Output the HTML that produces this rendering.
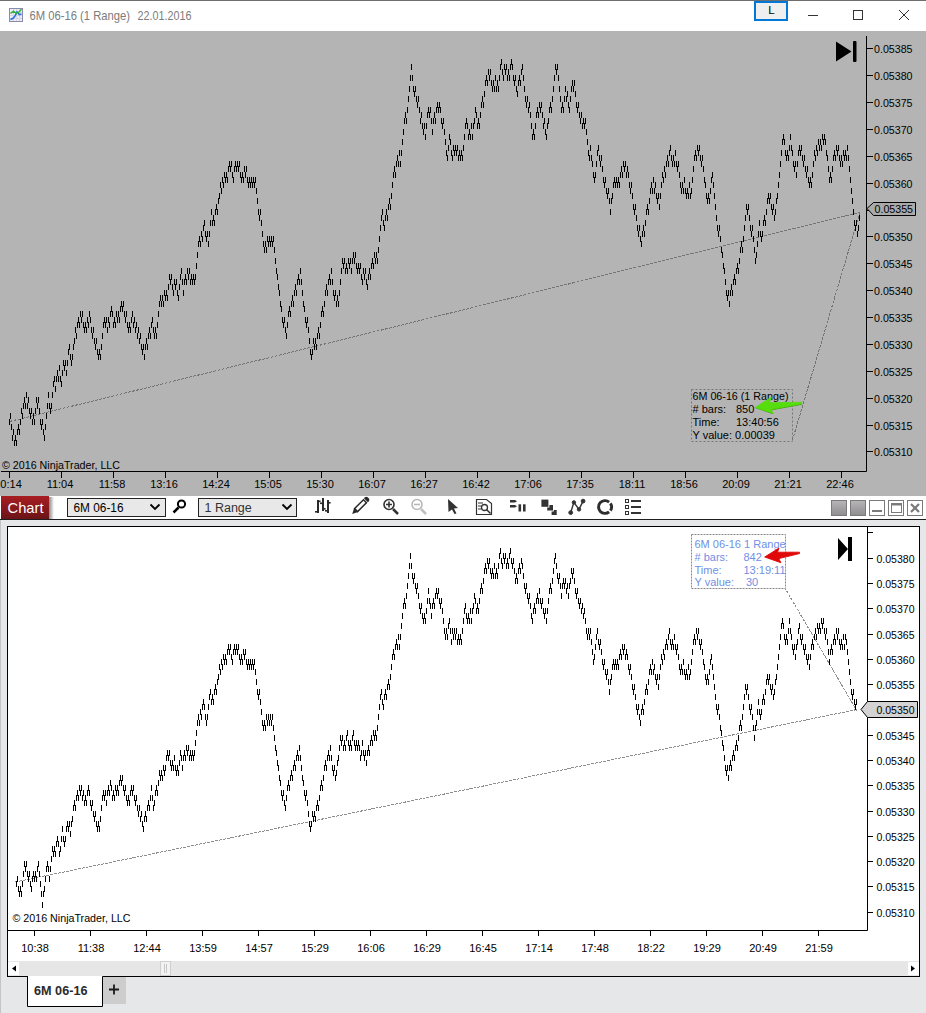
<!DOCTYPE html>
<html><head><meta charset="utf-8">
<style>
html,body{margin:0;padding:0;}
body{width:926px;height:1013px;overflow:hidden;background:#e6e7e8;position:relative;font-family:"Liberation Sans",sans-serif;}
svg{position:absolute;left:0;top:0;}
</style></head><body>
<svg width="926" height="1013" viewBox="0 0 926 1013" font-family="Liberation Sans, sans-serif">
<!-- title bar -->
<rect x="0" y="0" width="926" height="31" fill="#ffffff"/>
<rect x="0" y="0" width="926" height="1" fill="#6e6e6e"/>
<g>
<rect x="9.5" y="8.5" width="13" height="13" fill="#ececf8" stroke="#8b8bab"/>
<path d="M10 12.5h12M10 15.5h12M10 18.5h12M13.5 9v12M16.5 9v12M19.5 9v12" stroke="#d4d4e4" stroke-width="1"/>
<path d="M10.5 19.5L13 18.3L15 16L17 11.8L19.3 14.6L21.5 14" stroke="#2a6ee0" stroke-width="1.5" fill="none"/>
<path d="M10.5 13.5L13.5 11.2L16.5 13.5L19.5 11.5L21.5 9.3" stroke="#2fb52f" stroke-width="1.5" fill="none"/>
</g>
<text x="29.5" y="20" font-size="13" fill="#7c7c7c" textLength="100.5" lengthAdjust="spacingAndGlyphs">6M 06-16 (1 Range)</text><text x="137.5" y="20" font-size="13" fill="#7c7c7c" textLength="54" lengthAdjust="spacingAndGlyphs">22.01.2016</text>
<rect x="755" y="2" width="32" height="18" fill="#efefef" stroke="#0078d7" stroke-width="2"/>
<text x="771.5" y="14.3" font-size="11.5" text-anchor="middle" fill="#000">L</text>
<path d="M808 15.5h10" stroke="#333" stroke-width="1"/>
<rect x="853.5" y="10.5" width="9" height="9" fill="none" stroke="#333"/>
<path d="M899 10L909 20M909 10L899 20" stroke="#333" stroke-width="1"/>

<!-- top chart -->
<rect x="0" y="31" width="926" height="465" fill="#b4b4b4"/>
<g font-size="11" fill="#000">
<path d="M1 471.5H866.5V36" stroke="#000" fill="none"/>
<path d="M9.5 472v6" stroke="#000"/><text x="8" y="488" text-anchor="middle">10:14</text><path d="M61.5 472v6" stroke="#000"/><text x="60" y="488" text-anchor="middle">11:04</text><path d="M113.5 472v6" stroke="#000"/><text x="112" y="488" text-anchor="middle">11:58</text><path d="M165.5 472v6" stroke="#000"/><text x="164" y="488" text-anchor="middle">13:16</text><path d="M217.5 472v6" stroke="#000"/><text x="216" y="488" text-anchor="middle">14:24</text><path d="M269.5 472v6" stroke="#000"/><text x="268" y="488" text-anchor="middle">15:05</text><path d="M321.5 472v6" stroke="#000"/><text x="320" y="488" text-anchor="middle">15:30</text><path d="M373.5 472v6" stroke="#000"/><text x="372" y="488" text-anchor="middle">16:07</text><path d="M425.5 472v6" stroke="#000"/><text x="424" y="488" text-anchor="middle">16:27</text><path d="M477.5 472v6" stroke="#000"/><text x="476" y="488" text-anchor="middle">16:42</text><path d="M529.5 472v6" stroke="#000"/><text x="528" y="488" text-anchor="middle">17:06</text><path d="M581.5 472v6" stroke="#000"/><text x="580" y="488" text-anchor="middle">17:35</text><path d="M633.5 472v6" stroke="#000"/><text x="632" y="488" text-anchor="middle">18:11</text><path d="M685.5 472v6" stroke="#000"/><text x="684" y="488" text-anchor="middle">18:56</text><path d="M737.5 472v6" stroke="#000"/><text x="736" y="488" text-anchor="middle">20:09</text><path d="M789.5 472v6" stroke="#000"/><text x="788" y="488" text-anchor="middle">21:21</text><path d="M841.5 472v6" stroke="#000"/><text x="840" y="488" text-anchor="middle">22:46</text>
<path d="M867 48.5h6" stroke="#000"/><text x="874" y="53" textLength="38.5" lengthAdjust="spacingAndGlyphs">0.05385</text><path d="M867 75.5h6" stroke="#000"/><text x="874" y="80" textLength="38.5" lengthAdjust="spacingAndGlyphs">0.05380</text><path d="M867 102.5h6" stroke="#000"/><text x="874" y="107" textLength="38.5" lengthAdjust="spacingAndGlyphs">0.05375</text><path d="M867 129.5h6" stroke="#000"/><text x="874" y="134" textLength="38.5" lengthAdjust="spacingAndGlyphs">0.05370</text><path d="M867 156.5h6" stroke="#000"/><text x="874" y="161" textLength="38.5" lengthAdjust="spacingAndGlyphs">0.05365</text><path d="M867 183.5h6" stroke="#000"/><text x="874" y="188" textLength="38.5" lengthAdjust="spacingAndGlyphs">0.05360</text><path d="M867 210.5h6" stroke="#000"/><path d="M867 236.5h6" stroke="#000"/><text x="874" y="241" textLength="38.5" lengthAdjust="spacingAndGlyphs">0.05350</text><path d="M867 263.5h6" stroke="#000"/><text x="874" y="268" textLength="38.5" lengthAdjust="spacingAndGlyphs">0.05345</text><path d="M867 290.5h6" stroke="#000"/><text x="874" y="295" textLength="38.5" lengthAdjust="spacingAndGlyphs">0.05340</text><path d="M867 317.5h6" stroke="#000"/><text x="874" y="322" textLength="38.5" lengthAdjust="spacingAndGlyphs">0.05335</text><path d="M867 344.5h6" stroke="#000"/><text x="874" y="349" textLength="38.5" lengthAdjust="spacingAndGlyphs">0.05330</text><path d="M867 371.5h6" stroke="#000"/><text x="874" y="376" textLength="38.5" lengthAdjust="spacingAndGlyphs">0.05325</text><path d="M867 398.5h6" stroke="#000"/><text x="874" y="403" textLength="38.5" lengthAdjust="spacingAndGlyphs">0.05320</text><path d="M867 425.5h6" stroke="#000"/><text x="874" y="430" textLength="38.5" lengthAdjust="spacingAndGlyphs">0.05315</text><path d="M867 451.5h6" stroke="#000"/><text x="874" y="456" textLength="38.5" lengthAdjust="spacingAndGlyphs">0.05310</text>
<text x="2" y="469" textLength="118" lengthAdjust="spacingAndGlyphs">© 2016 NinjaTrader, LLC</text>
</g>
<path d="M9.5 421.5L860 212.3" stroke="#747474" stroke-dasharray="3 1.2" fill="none" shape-rendering="crispEdges"/>
<path d="M860 212L792.5 440" stroke="#747474" stroke-dasharray="3 1.2" fill="none" shape-rendering="crispEdges"/>
<path d="M9.5 419v6M10.5 413v6M11.5 424v6M12.5 435v6M13.5 429v6M14.5 440v6M15.5 435v6M16.5 440v6M17.5 429v6M18.5 424v6M19.5 429v6M20.5 419v6M21.5 408v6M22.5 413v6M23.5 403v6M24.5 397v6M25.5 403v6M26.5 392v6M27.5 403v6M28.5 397v6M29.5 408v6M30.5 413v6M31.5 408v6M32.5 419v6M33.5 413v6M34.5 419v6M35.5 408v6M36.5 397v6M37.5 403v6M38.5 397v6M39.5 408v6M40.5 419v6M41.5 424v6M42.5 419v6M43.5 429v6M44.5 435v6M45.5 424v6M46.5 413v6M47.5 403v6M48.5 392v6M49.5 403v6M50.5 408v6M51.5 403v6M52.5 392v6M53.5 381v6M54.5 376v6M55.5 386v6M56.5 376v6M57.5 370v6M58.5 376v6M59.5 365v6M60.5 376v6M61.5 381v6M62.5 370v6M63.5 360v6M64.5 365v6M65.5 360v6M66.5 370v6M67.5 360v6M68.5 349v6M69.5 344v6M70.5 354v6M71.5 360v6M72.5 354v6M73.5 344v6M74.5 338v6M75.5 327v6M76.5 333v6M77.5 322v6M78.5 317v6M79.5 322v6M80.5 311v6M81.5 317v6M82.5 311v6M83.5 322v6M84.5 327v6M85.5 322v6M86.5 327v6M87.5 317v6M88.5 322v6M89.5 311v6M90.5 317v6M91.5 327v6M92.5 333v6M93.5 327v6M94.5 338v6M95.5 344v6M96.5 338v6M97.5 349v6M98.5 354v6M99.5 349v6M100.5 354v6M101.5 344v6M102.5 333v6M103.5 322v6M104.5 317v6M105.5 322v6M106.5 317v6M107.5 327v6M108.5 317v6M109.5 322v6M110.5 311v6M111.5 306v6M112.5 311v6M113.5 322v6M114.5 317v6M115.5 322v6M116.5 311v6M117.5 317v6M118.5 311v6M119.5 317v6M120.5 306v6M121.5 301v6M122.5 306v6M123.5 301v6M124.5 311v6M125.5 317v6M126.5 311v6M127.5 322v6M128.5 327v6M129.5 322v6M130.5 327v6M131.5 317v6M132.5 311v6M133.5 322v6M134.5 317v6M135.5 327v6M136.5 322v6M137.5 333v6M138.5 327v6M139.5 338v6M140.5 333v6M141.5 344v6M142.5 349v6M143.5 344v6M144.5 354v6M145.5 344v6M146.5 338v6M147.5 344v6M148.5 333v6M149.5 327v6M150.5 333v6M151.5 322v6M152.5 317v6M153.5 327v6M154.5 333v6M155.5 327v6M156.5 333v6M157.5 322v6M158.5 311v6M159.5 301v6M160.5 295v6M161.5 301v6M162.5 295v6M163.5 301v6M164.5 290v6M165.5 295v6M166.5 290v6M167.5 295v6M168.5 284v6M169.5 274v6M170.5 279v6M171.5 274v6M172.5 284v6M173.5 290v6M174.5 279v6M175.5 284v6M176.5 279v6M177.5 290v6M178.5 295v6M179.5 284v6M180.5 274v6M181.5 268v6M182.5 279v6M183.5 290v6M184.5 279v6M185.5 274v6M186.5 279v6M187.5 268v6M188.5 274v6M189.5 268v6M190.5 279v6M191.5 274v6M192.5 279v6M193.5 274v6M194.5 279v6M195.5 274v6M196.5 263v6M197.5 252v6M198.5 241v6M199.5 236v6M200.5 241v6M201.5 231v6M202.5 236v6M203.5 225v6M204.5 220v6M205.5 231v6M206.5 236v6M207.5 231v6M208.5 241v6M209.5 231v6M210.5 220v6M211.5 209v6M212.5 220v6M213.5 215v6M214.5 220v6M215.5 209v6M216.5 204v6M217.5 209v6M218.5 198v6M219.5 193v6M220.5 182v6M221.5 188v6M222.5 177v6M223.5 182v6M224.5 172v6M225.5 177v6M226.5 172v6M227.5 177v6M228.5 166v6M229.5 161v6M230.5 166v6M231.5 161v6M232.5 172v6M233.5 177v6M234.5 166v6M235.5 161v6M236.5 166v6M237.5 161v6M238.5 166v6M239.5 161v6M240.5 172v6M241.5 177v6M242.5 172v6M243.5 177v6M244.5 166v6M245.5 172v6M246.5 166v6M247.5 177v6M248.5 182v6M249.5 177v6M250.5 182v6M251.5 177v6M252.5 182v6M253.5 177v6M254.5 182v6M255.5 177v6M256.5 188v6M257.5 198v6M258.5 209v6M259.5 215v6M260.5 209v6M261.5 220v6M262.5 231v6M263.5 241v6M264.5 247v6M265.5 241v6M266.5 247v6M267.5 236v6M268.5 241v6M269.5 236v6M270.5 241v6M271.5 236v6M272.5 241v6M273.5 236v6M274.5 247v6M275.5 258v6M276.5 268v6M277.5 274v6M278.5 284v6M279.5 290v6M280.5 301v6M281.5 306v6M282.5 317v6M283.5 322v6M284.5 317v6M285.5 327v6M286.5 333v6M287.5 322v6M288.5 311v6M289.5 306v6M290.5 311v6M291.5 301v6M292.5 295v6M293.5 301v6M294.5 290v6M295.5 284v6M296.5 290v6M297.5 279v6M298.5 274v6M299.5 279v6M300.5 268v6M301.5 279v6M302.5 290v6M303.5 301v6M304.5 306v6M305.5 317v6M306.5 322v6M307.5 317v6M308.5 327v6M309.5 338v6M310.5 349v6M311.5 354v6M312.5 349v6M313.5 338v6M314.5 344v6M315.5 338v6M316.5 344v6M317.5 333v6M318.5 327v6M319.5 333v6M320.5 322v6M321.5 311v6M322.5 306v6M323.5 311v6M324.5 301v6M325.5 290v6M326.5 284v6M327.5 290v6M328.5 279v6M329.5 274v6M330.5 279v6M331.5 268v6M332.5 279v6M333.5 290v6M334.5 295v6M335.5 290v6M336.5 301v6M337.5 295v6M338.5 301v6M339.5 290v6M340.5 279v6M341.5 268v6M342.5 258v6M343.5 263v6M344.5 258v6M345.5 268v6M346.5 263v6M347.5 268v6M348.5 258v6M349.5 263v6M350.5 258v6M351.5 268v6M352.5 258v6M353.5 252v6M354.5 258v6M355.5 252v6M356.5 263v6M357.5 268v6M358.5 263v6M359.5 268v6M360.5 263v6M361.5 274v6M362.5 279v6M363.5 268v6M364.5 274v6M365.5 268v6M366.5 279v6M367.5 284v6M368.5 274v6M369.5 268v6M370.5 274v6M371.5 263v6M372.5 258v6M373.5 263v6M374.5 252v6M375.5 258v6M376.5 252v6M377.5 258v6M378.5 247v6M379.5 236v6M380.5 225v6M381.5 215v6M382.5 209v6M383.5 220v6M384.5 225v6M385.5 215v6M386.5 209v6M387.5 215v6M388.5 204v6M389.5 198v6M390.5 204v6M391.5 193v6M392.5 182v6M393.5 172v6M394.5 166v6M395.5 172v6M396.5 161v6M397.5 155v6M398.5 161v6M399.5 150v6M400.5 161v6M401.5 150v6M402.5 139v6M403.5 129v6M404.5 118v6M405.5 112v6M406.5 118v6M407.5 107v6M408.5 96v6M409.5 86v6M410.5 75v6M411.5 64v6M412.5 75v6M413.5 86v6M414.5 91v6M415.5 86v6M416.5 96v6M417.5 102v6M418.5 96v6M419.5 107v6M420.5 118v6M421.5 112v6M422.5 123v6M423.5 129v6M424.5 123v6M425.5 134v6M426.5 123v6M427.5 112v6M428.5 107v6M429.5 112v6M430.5 107v6M431.5 118v6M432.5 129v6M433.5 118v6M434.5 112v6M435.5 118v6M436.5 107v6M437.5 102v6M438.5 107v6M439.5 102v6M440.5 107v6M441.5 118v6M442.5 123v6M443.5 118v6M444.5 129v6M445.5 139v6M446.5 150v6M447.5 155v6M448.5 145v6M449.5 134v6M450.5 139v6M451.5 150v6M452.5 155v6M453.5 145v6M454.5 150v6M455.5 145v6M456.5 150v6M457.5 145v6M458.5 155v6M459.5 150v6M460.5 155v6M461.5 150v6M462.5 155v6M463.5 145v6M464.5 134v6M465.5 123v6M466.5 118v6M467.5 123v6M468.5 134v6M469.5 129v6M470.5 134v6M471.5 123v6M472.5 134v6M473.5 123v6M474.5 118v6M475.5 107v6M476.5 112v6M477.5 123v6M478.5 118v6M479.5 123v6M480.5 112v6M481.5 102v6M482.5 96v6M483.5 102v6M484.5 91v6M485.5 80v6M486.5 75v6M487.5 80v6M488.5 69v6M489.5 75v6M490.5 69v6M491.5 80v6M492.5 86v6M493.5 80v6M494.5 86v6M495.5 75v6M496.5 86v6M497.5 80v6M498.5 86v6M499.5 75v6M500.5 64v6M501.5 59v6M502.5 69v6M503.5 75v6M504.5 64v6M505.5 69v6M506.5 64v6M507.5 75v6M508.5 69v6M509.5 75v6M510.5 64v6M511.5 59v6M512.5 64v6M513.5 75v6M514.5 80v6M515.5 75v6M516.5 86v6M517.5 91v6M518.5 80v6M519.5 75v6M520.5 80v6M521.5 69v6M522.5 64v6M523.5 75v6M524.5 86v6M525.5 96v6M526.5 102v6M527.5 96v6M528.5 107v6M529.5 102v6M530.5 112v6M531.5 123v6M532.5 134v6M533.5 129v6M534.5 134v6M535.5 123v6M536.5 112v6M537.5 107v6M538.5 112v6M539.5 102v6M540.5 107v6M541.5 102v6M542.5 112v6M543.5 123v6M544.5 118v6M545.5 129v6M546.5 134v6M547.5 123v6M548.5 118v6M549.5 107v6M550.5 102v6M551.5 107v6M552.5 96v6M553.5 86v6M554.5 75v6M555.5 64v6M556.5 69v6M557.5 64v6M558.5 75v6M559.5 86v6M560.5 96v6M561.5 107v6M562.5 102v6M563.5 107v6M564.5 96v6M565.5 86v6M566.5 96v6M567.5 91v6M568.5 102v6M569.5 107v6M570.5 96v6M571.5 86v6M572.5 80v6M573.5 86v6M574.5 80v6M575.5 91v6M576.5 102v6M577.5 107v6M578.5 102v6M579.5 112v6M580.5 118v6M581.5 112v6M582.5 123v6M583.5 118v6M584.5 123v6M585.5 118v6M586.5 129v6M587.5 139v6M588.5 150v6M589.5 155v6M590.5 145v6M591.5 155v6M592.5 161v6M593.5 172v6M594.5 177v6M595.5 172v6M596.5 161v6M597.5 150v6M598.5 145v6M599.5 155v6M600.5 161v6M601.5 155v6M602.5 166v6M603.5 177v6M604.5 182v6M605.5 177v6M606.5 188v6M607.5 193v6M608.5 188v6M609.5 198v6M610.5 209v6M611.5 198v6M612.5 193v6M613.5 182v6M614.5 177v6M615.5 182v6M616.5 177v6M617.5 182v6M618.5 177v6M619.5 182v6M620.5 172v6M621.5 166v6M622.5 172v6M623.5 161v6M624.5 166v6M625.5 161v6M626.5 172v6M627.5 166v6M628.5 172v6M629.5 182v6M630.5 188v6M631.5 182v6M632.5 193v6M633.5 204v6M634.5 209v6M635.5 204v6M636.5 215v6M637.5 225v6M638.5 231v6M639.5 225v6M640.5 236v6M641.5 241v6M642.5 231v6M643.5 225v6M644.5 231v6M645.5 220v6M646.5 209v6M647.5 204v6M648.5 209v6M649.5 198v6M650.5 188v6M651.5 182v6M652.5 188v6M653.5 177v6M654.5 188v6M655.5 182v6M656.5 193v6M657.5 198v6M658.5 193v6M659.5 204v6M660.5 193v6M661.5 182v6M662.5 172v6M663.5 177v6M664.5 166v6M665.5 172v6M666.5 161v6M667.5 155v6M668.5 161v6M669.5 150v6M670.5 145v6M671.5 155v6M672.5 161v6M673.5 155v6M674.5 161v6M675.5 150v6M676.5 161v6M677.5 166v6M678.5 161v6M679.5 172v6M680.5 182v6M681.5 188v6M682.5 182v6M683.5 188v6M684.5 177v6M685.5 188v6M686.5 193v6M687.5 188v6M688.5 193v6M689.5 182v6M690.5 193v6M691.5 188v6M692.5 177v6M693.5 166v6M694.5 155v6M695.5 150v6M696.5 155v6M697.5 145v6M698.5 150v6M699.5 145v6M700.5 155v6M701.5 161v6M702.5 155v6M703.5 166v6M704.5 177v6M705.5 182v6M706.5 193v6M707.5 198v6M708.5 193v6M709.5 198v6M710.5 188v6M711.5 177v6M712.5 172v6M713.5 182v6M714.5 193v6M715.5 204v6M716.5 215v6M717.5 225v6M718.5 231v6M719.5 225v6M720.5 236v6M721.5 247v6M722.5 252v6M723.5 263v6M724.5 268v6M725.5 279v6M726.5 290v6M727.5 295v6M728.5 290v6M729.5 301v6M730.5 290v6M731.5 284v6M732.5 290v6M733.5 279v6M734.5 274v6M735.5 279v6M736.5 268v6M737.5 263v6M738.5 268v6M739.5 258v6M740.5 247v6M741.5 241v6M742.5 247v6M743.5 236v6M744.5 225v6M745.5 215v6M746.5 204v6M747.5 209v6M748.5 204v6M749.5 215v6M750.5 225v6M751.5 231v6M752.5 225v6M753.5 236v6M754.5 247v6M755.5 258v6M756.5 252v6M757.5 241v6M758.5 231v6M759.5 220v6M760.5 231v6M761.5 236v6M762.5 231v6M763.5 220v6M764.5 215v6M765.5 220v6M766.5 209v6M767.5 198v6M768.5 193v6M769.5 198v6M770.5 193v6M771.5 204v6M772.5 209v6M773.5 204v6M774.5 215v6M775.5 209v6M776.5 198v6M777.5 193v6M778.5 182v6M779.5 172v6M780.5 161v6M781.5 150v6M782.5 139v6M783.5 134v6M784.5 139v6M785.5 150v6M786.5 155v6M787.5 150v6M788.5 155v6M789.5 145v6M790.5 134v6M791.5 145v6M792.5 150v6M793.5 161v6M794.5 166v6M795.5 161v6M796.5 172v6M797.5 161v6M798.5 150v6M799.5 145v6M800.5 150v6M801.5 145v6M802.5 155v6M803.5 161v6M804.5 155v6M805.5 166v6M806.5 172v6M807.5 166v6M808.5 177v6M809.5 182v6M810.5 177v6M811.5 182v6M812.5 172v6M813.5 161v6M814.5 150v6M815.5 155v6M816.5 145v6M817.5 150v6M818.5 139v6M819.5 145v6M820.5 139v6M821.5 145v6M822.5 134v6M823.5 139v6M824.5 134v6M825.5 139v6M826.5 150v6M827.5 155v6M828.5 166v6M829.5 177v6M830.5 172v6M831.5 177v6M832.5 166v6M833.5 155v6M834.5 150v6M835.5 155v6M836.5 145v6M837.5 150v6M838.5 145v6M839.5 155v6M840.5 161v6M841.5 155v6M842.5 161v6M843.5 150v6M844.5 155v6M845.5 150v6M846.5 155v6M847.5 145v6M848.5 155v6M849.5 166v6M850.5 177v6M851.5 188v6M852.5 198v6M853.5 209v6M854.5 220v6M855.5 225v6M856.5 220v6M857.5 231v6M858.5 225v6M859.5 215v6" stroke="#000" stroke-width="1" fill="none"/>
<path d="M836 41.5L851.5 51.5L836 61.5Z" fill="#000"/>
<rect x="853" y="41" width="3.5" height="21" rx="1" fill="#000"/>
<path d="M867 208.5L873.5 202.5H915.5V215.5H873.5Z" fill="#aaaaaa" stroke="#000"/>
<text x="874.5" y="213" font-size="11" textLength="38.5" lengthAdjust="spacingAndGlyphs">0.05355</text>
<rect x="691.5" y="389.5" width="101" height="52" fill="none" stroke="#777" stroke-dasharray="2 2"/>
<g font-size="11" fill="#000">
<text x="692.5" y="400" textLength="96" lengthAdjust="spacingAndGlyphs">6M 06-16 (1 Range)</text>
<text x="692.5" y="413"># bars:</text><text x="736" y="413">850</text>
<text x="692.5" y="426">Time:</text><text x="736" y="426">13:40:56</text>
<text x="692.5" y="439">Y value: 0.00039</text>
</g>
<path d="M755.5 408.3L771.4 398L769 403.6L801.8 403L801.8 404.8L770.5 410.4L773.5 414.2Z" fill="#3a9a0a"/><path d="M755.2 407.5L771.4 397.2L769 402.8L801.8 402.2L801.8 403.8L770.5 409.6L773.5 413.3Z" fill="#55dd0c" stroke="#55dd0c" stroke-width="0.8" stroke-linejoin="round"/>

<!-- toolbar -->
<rect x="0" y="496" width="926" height="23" fill="#ffffff"/>
<rect x="0" y="519" width="926" height="1" fill="#1e1e1e"/>
<defs>
<linearGradient id="rg" x1="0" y1="0" x2="0" y2="1"><stop offset="0" stop-color="#a81e22"/><stop offset="1" stop-color="#6a1317"/></linearGradient>
<linearGradient id="sh" x1="0" y1="0" x2="1" y2="0"><stop offset="0" stop-color="#888"/><stop offset="1" stop-color="#fff"/></linearGradient>
<linearGradient id="gb" x1="0" y1="0" x2="0" y2="1"><stop offset="0" stop-color="#b8b6b8"/><stop offset="1" stop-color="#8e8c8e"/></linearGradient>
</defs>
<rect x="49" y="497" width="5" height="22" fill="url(#sh)"/>
<rect x="1" y="496" width="48" height="23" fill="url(#rg)"/>
<text x="7.5" y="513" font-size="15" fill="#fff" textLength="36" lengthAdjust="spacingAndGlyphs">Chart</text>
<rect x="67.5" y="498.5" width="98" height="18" fill="#e8e8e8" stroke="#222"/>
<text x="73.5" y="512" font-size="12.5" fill="#000" textLength="50" lengthAdjust="spacingAndGlyphs">6M 06-16</text>
<path d="M150.5 504.5L155 509L159.5 504.5" stroke="#000" stroke-width="1.8" fill="none"/>
<circle cx="181.5" cy="504" r="3.6" fill="none" stroke="#000" stroke-width="2"/>
<path d="M178.5 507.5L173.5 512.5" stroke="#000" stroke-width="2.5"/>
<rect x="198.5" y="498.5" width="98" height="18" fill="#e8e8e8" stroke="#222"/>
<text x="204.5" y="512" font-size="12.5" fill="#333">1 Range</text>
<path d="M282.5 504.5L287 509L291.5 504.5" stroke="#000" stroke-width="1.8" fill="none"/>
<!-- icons -->
<g fill="none" stroke="#333">
</g>
<g fill="#2a2a2a">
<rect x="317" y="500" width="2" height="13"/><rect x="315" y="511" width="2" height="1.6"/><rect x="319" y="500.5" width="1.6" height="1.6"/>
<rect x="322" y="498" width="2" height="13"/><rect x="320" y="502.5" width="2" height="1.6"/><rect x="324" y="508" width="1.6" height="1.6"/>
<rect x="327" y="500" width="2" height="13"/><rect x="325" y="510" width="2" height="1.6"/><rect x="329" y="502" width="1.6" height="1.6"/>
</g>
<g transform="translate(360 506.2) rotate(-45)">
<path d="M-5.5 -2.1H7V2.1H-5.5Z" fill="#fff" stroke="#2a2a2a" stroke-width="1.5"/>
<path d="M8.3 -2.8H9.8A2 2.8 0 0 1 9.8 2.8H8.3Z" fill="#2a2a2a"/>
<path d="M-5.5 -2.8L-11 0L-5.5 2.8Z" fill="#2a2a2a"/>
</g>
<g fill="none" stroke="#333">
<circle cx="389" cy="504.5" r="5" stroke-width="1.6"/>
<path d="M386 504.5h6M389 501.5v6" stroke-width="1.6"/>
<path d="M393 509L398 514" stroke-width="2.5"/>
<circle cx="417" cy="504.5" r="5" stroke="#b8b8b8" stroke-width="1.6"/>
<path d="M414 504.5h6" stroke="#b8b8b8" stroke-width="1.6"/>
<path d="M421 509L426 514" stroke="#c0c0c0" stroke-width="2.5"/>
</g>
<path d="M448 499L458 508L454 508.5L456.5 513.5L454.5 514L452 509.5L448.5 512Z" fill="#333"/>
<g fill="none" stroke="#333">
<path d="M476.5 499.5h10l5 4v11h-15z" stroke-width="1.2"/>
<circle cx="484.5" cy="507.5" r="3" stroke-width="1.3"/>
<path d="M486.5 509.5l4 4" stroke-width="1.6"/>
<path d="M478 503h5M478 506h3M478 509h3" stroke-width="1"/>
</g>
<g fill="#333">
<path d="M510 500H515L517 501.2L515 502.4H510Z"/><path d="M510 505H515L517 506.2L515 507.4H510Z"/>
<rect x="518.5" y="504.3" width="2.6" height="7.2"/><rect x="523" y="504.3" width="2.6" height="7.2"/>
<rect x="541.4" y="499.6" width="7" height="7.2"/><path d="M547.2 507.6H549.4V505H553V510.6H547.2Z" fill="#333"/><path d="M551.6 511.6H553.8V510H556.7V515H551.6Z"/>
</g>
<g stroke="#333" fill="#333">
<path d="M570.7 512.6L573.9 502.4L579 509.4L583.1 501.1" fill="none" stroke-width="1.4"/>
<circle cx="570.7" cy="512.6" r="1.9"/><circle cx="573.9" cy="502.4" r="1.7"/><circle cx="579" cy="509.4" r="1.7"/><circle cx="583.1" cy="501.1" r="1.9"/>
</g>
<path d="M609.1 502.1A6.4 6.4 0 1 0 609.1 511.9M610.4 503.4A6.4 6.4 0 0 1 610.4 510.6" fill="none" stroke="#2e2e2e" stroke-width="2.9"/>
<g fill="none" stroke="#333">
<rect x="625.5" y="499.5" width="3" height="3" stroke-width="1"/><rect x="625.5" y="505.5" width="3" height="3" stroke-width="1"/><rect x="625.5" y="511.5" width="3" height="3" stroke-width="1"/>
<path d="M631 501h10M631 507h10M631 513h10" stroke-width="2"/>
</g>
<g>
<rect x="831.5" y="500.5" width="15" height="15" fill="url(#gb)" stroke="#7a7a7a"/>
<rect x="850.5" y="500.5" width="15" height="15" fill="url(#gb)" stroke="#7a7a7a"/>
<rect x="869.5" y="500.5" width="15" height="15" fill="#fff" stroke="#7a7a7a"/>
<rect x="888.5" y="500.5" width="15" height="15" fill="#fff" stroke="#7a7a7a"/>
<rect x="907.5" y="500.5" width="15" height="15" fill="#fff" stroke="#7a7a7a"/>
<path d="M872 511h10" stroke="#7a7a7a" stroke-width="2"/>
<rect x="891.5" y="503.5" width="10" height="9" fill="none" stroke="#7a7a7a"/>
<path d="M891 504.5h11" stroke="#7a7a7a" stroke-width="2"/>
<path d="M911 504L919 512M919 504L911 512" stroke="#7a7a7a" stroke-width="2.2"/>
</g>

<!-- lower panel -->
<rect x="0" y="520" width="926" height="493" fill="#e6e7e8"/>
<rect x="0" y="520" width="1" height="493" fill="#c4c4c4"/>
<rect x="7.5" y="526.5" width="912" height="450" fill="#fff" stroke="#000"/>
<g font-size="11" fill="#000">
<path d="M8 930.5H867.5V527" stroke="#000" fill="none"/>
<path d="M34.5 931v5" stroke="#000"/><text x="35" y="952" text-anchor="middle">10:38</text><path d="M90.5 931v5" stroke="#000"/><text x="91" y="952" text-anchor="middle">11:38</text><path d="M146.5 931v5" stroke="#000"/><text x="147" y="952" text-anchor="middle">12:44</text><path d="M202.5 931v5" stroke="#000"/><text x="203" y="952" text-anchor="middle">13:59</text><path d="M258.5 931v5" stroke="#000"/><text x="259" y="952" text-anchor="middle">14:57</text><path d="M314.5 931v5" stroke="#000"/><text x="315" y="952" text-anchor="middle">15:29</text><path d="M370.5 931v5" stroke="#000"/><text x="371" y="952" text-anchor="middle">16:06</text><path d="M426.5 931v5" stroke="#000"/><text x="427" y="952" text-anchor="middle">16:29</text><path d="M482.5 931v5" stroke="#000"/><text x="483" y="952" text-anchor="middle">16:45</text><path d="M538.5 931v5" stroke="#000"/><text x="539" y="952" text-anchor="middle">17:14</text><path d="M594.5 931v5" stroke="#000"/><text x="595" y="952" text-anchor="middle">17:48</text><path d="M650.5 931v5" stroke="#000"/><text x="651" y="952" text-anchor="middle">18:22</text><path d="M706.5 931v5" stroke="#000"/><text x="707" y="952" text-anchor="middle">19:29</text><path d="M762.5 931v5" stroke="#000"/><text x="763" y="952" text-anchor="middle">20:49</text><path d="M818.5 931v5" stroke="#000"/><text x="819" y="952" text-anchor="middle">21:59</text>
<path d="M868 532.5h5" stroke="#000"/><path d="M868 558.5h5" stroke="#000"/><text x="876.5" y="563" textLength="38" lengthAdjust="spacingAndGlyphs">0.05380</text><path d="M868 583.5h5" stroke="#000"/><text x="876.5" y="588" textLength="38" lengthAdjust="spacingAndGlyphs">0.05375</text><path d="M868 608.5h5" stroke="#000"/><text x="876.5" y="613" textLength="38" lengthAdjust="spacingAndGlyphs">0.05370</text><path d="M868 634.5h5" stroke="#000"/><text x="876.5" y="639" textLength="38" lengthAdjust="spacingAndGlyphs">0.05365</text><path d="M868 659.5h5" stroke="#000"/><text x="876.5" y="664" textLength="38" lengthAdjust="spacingAndGlyphs">0.05360</text><path d="M868 684.5h5" stroke="#000"/><text x="876.5" y="689" textLength="38" lengthAdjust="spacingAndGlyphs">0.05355</text><path d="M868 709.5h5" stroke="#000"/><path d="M868 735.5h5" stroke="#000"/><text x="876.5" y="740" textLength="38" lengthAdjust="spacingAndGlyphs">0.05345</text><path d="M868 760.5h5" stroke="#000"/><text x="876.5" y="765" textLength="38" lengthAdjust="spacingAndGlyphs">0.05340</text><path d="M868 785.5h5" stroke="#000"/><text x="876.5" y="790" textLength="38" lengthAdjust="spacingAndGlyphs">0.05335</text><path d="M868 811.5h5" stroke="#000"/><text x="876.5" y="816" textLength="38" lengthAdjust="spacingAndGlyphs">0.05330</text><path d="M868 836.5h5" stroke="#000"/><text x="876.5" y="841" textLength="38" lengthAdjust="spacingAndGlyphs">0.05325</text><path d="M868 861.5h5" stroke="#000"/><text x="876.5" y="866" textLength="38" lengthAdjust="spacingAndGlyphs">0.05320</text><path d="M868 886.5h5" stroke="#000"/><text x="876.5" y="891" textLength="38" lengthAdjust="spacingAndGlyphs">0.05315</text><path d="M868 912.5h5" stroke="#000"/><text x="876.5" y="917" textLength="38" lengthAdjust="spacingAndGlyphs">0.05310</text>
<text x="12.5" y="922" textLength="118" lengthAdjust="spacingAndGlyphs">© 2016 NinjaTrader, LLC</text>
</g>
<path d="M15 882L857 709.5" stroke="#8e8e8e" stroke-dasharray="3 1" fill="none" shape-rendering="crispEdges"/>
<path d="M857 711L785.5 589" stroke="#8e8e8e" stroke-dasharray="3 1" fill="none" shape-rendering="crispEdges"/>
<path d="M16.5 881v6M17.5 876v6M18.5 886v6M19.5 891v6M20.5 886v6M21.5 891v6M22.5 881v6M23.5 871v6M24.5 861v6M25.5 866v6M26.5 861v6M27.5 871v6M28.5 876v6M29.5 871v6M30.5 881v6M31.5 886v6M32.5 876v6M33.5 871v6M34.5 876v6M35.5 871v6M36.5 876v6M37.5 866v6M38.5 861v6M39.5 871v6M40.5 881v6M41.5 891v6M42.5 902v6M43.5 891v6M44.5 886v6M45.5 876v6M46.5 866v6M47.5 861v6M48.5 866v6M49.5 876v6M50.5 866v6M51.5 856v6M52.5 846v6M53.5 851v6M54.5 846v6M55.5 851v6M56.5 841v6M57.5 836v6M58.5 841v6M59.5 851v6M60.5 846v6M61.5 836v6M62.5 826v6M63.5 836v6M64.5 841v6M65.5 836v6M66.5 826v6M67.5 821v6M68.5 826v6M69.5 821v6M70.5 831v6M71.5 821v6M72.5 816v6M73.5 805v6M74.5 800v6M75.5 805v6M76.5 795v6M77.5 790v6M78.5 795v6M79.5 785v6M80.5 790v6M81.5 785v6M82.5 795v6M83.5 790v6M84.5 800v6M85.5 795v6M86.5 800v6M87.5 790v6M88.5 785v6M89.5 790v6M90.5 800v6M91.5 805v6M92.5 800v6M93.5 811v6M94.5 816v6M95.5 811v6M96.5 821v6M97.5 826v6M98.5 821v6M99.5 826v6M100.5 816v6M101.5 805v6M102.5 795v6M103.5 790v6M104.5 795v6M105.5 790v6M106.5 800v6M107.5 790v6M108.5 785v6M109.5 790v6M110.5 780v6M111.5 785v6M112.5 795v6M113.5 790v6M114.5 795v6M115.5 785v6M116.5 790v6M117.5 785v6M118.5 790v6M119.5 780v6M120.5 775v6M121.5 780v6M122.5 775v6M123.5 785v6M124.5 790v6M125.5 785v6M126.5 795v6M127.5 800v6M128.5 795v6M129.5 800v6M130.5 790v6M131.5 785v6M132.5 790v6M133.5 785v6M134.5 795v6M135.5 800v6M136.5 795v6M137.5 805v6M138.5 811v6M139.5 805v6M140.5 816v6M141.5 811v6M142.5 821v6M143.5 826v6M144.5 816v6M145.5 811v6M146.5 816v6M147.5 805v6M148.5 800v6M149.5 805v6M150.5 795v6M151.5 785v6M152.5 795v6M153.5 805v6M154.5 800v6M155.5 790v6M156.5 785v6M157.5 790v6M158.5 780v6M159.5 770v6M160.5 775v6M161.5 770v6M162.5 775v6M163.5 765v6M164.5 770v6M165.5 765v6M166.5 755v6M167.5 750v6M168.5 755v6M169.5 750v6M170.5 760v6M171.5 765v6M172.5 760v6M173.5 765v6M174.5 755v6M175.5 765v6M176.5 770v6M177.5 765v6M178.5 770v6M179.5 760v6M180.5 750v6M181.5 755v6M182.5 765v6M183.5 755v6M184.5 750v6M185.5 755v6M186.5 745v6M187.5 750v6M188.5 745v6M189.5 755v6M190.5 750v6M191.5 755v6M192.5 750v6M193.5 755v6M194.5 750v6M195.5 740v6M196.5 730v6M197.5 720v6M198.5 714v6M199.5 720v6M200.5 709v6M201.5 714v6M202.5 704v6M203.5 699v6M204.5 704v6M205.5 714v6M206.5 720v6M207.5 714v6M208.5 704v6M209.5 694v6M210.5 689v6M211.5 699v6M212.5 694v6M213.5 699v6M214.5 689v6M215.5 684v6M216.5 689v6M217.5 679v6M218.5 674v6M219.5 664v6M220.5 669v6M221.5 659v6M222.5 664v6M223.5 654v6M224.5 659v6M225.5 654v6M226.5 659v6M227.5 649v6M228.5 644v6M229.5 649v6M230.5 644v6M231.5 654v6M232.5 659v6M233.5 649v6M234.5 644v6M235.5 649v6M236.5 644v6M237.5 649v6M238.5 644v6M239.5 654v6M240.5 659v6M241.5 654v6M242.5 659v6M243.5 649v6M244.5 654v6M245.5 649v6M246.5 659v6M247.5 664v6M248.5 659v6M249.5 664v6M250.5 659v6M251.5 664v6M252.5 659v6M253.5 664v6M254.5 659v6M255.5 669v6M256.5 679v6M257.5 689v6M258.5 694v6M259.5 689v6M260.5 699v6M261.5 709v6M262.5 720v6M263.5 725v6M264.5 720v6M265.5 725v6M266.5 714v6M267.5 720v6M268.5 714v6M269.5 720v6M270.5 714v6M271.5 720v6M272.5 714v6M273.5 725v6M274.5 735v6M275.5 745v6M276.5 750v6M277.5 760v6M278.5 765v6M279.5 775v6M280.5 780v6M281.5 790v6M282.5 795v6M283.5 790v6M284.5 800v6M285.5 805v6M286.5 795v6M287.5 785v6M288.5 780v6M289.5 785v6M290.5 775v6M291.5 770v6M292.5 775v6M293.5 765v6M294.5 760v6M295.5 765v6M296.5 755v6M297.5 750v6M298.5 755v6M299.5 745v6M300.5 755v6M301.5 765v6M302.5 775v6M303.5 780v6M304.5 790v6M305.5 795v6M306.5 790v6M307.5 800v6M308.5 811v6M309.5 821v6M310.5 826v6M311.5 821v6M312.5 811v6M313.5 816v6M314.5 811v6M315.5 816v6M316.5 805v6M317.5 800v6M318.5 805v6M319.5 795v6M320.5 785v6M321.5 780v6M322.5 785v6M323.5 775v6M324.5 765v6M325.5 760v6M326.5 765v6M327.5 755v6M328.5 750v6M329.5 755v6M330.5 745v6M331.5 755v6M332.5 765v6M333.5 770v6M334.5 765v6M335.5 775v6M336.5 770v6M337.5 760v6M338.5 755v6M339.5 745v6M340.5 735v6M341.5 740v6M342.5 735v6M343.5 745v6M344.5 740v6M345.5 745v6M346.5 735v6M347.5 730v6M348.5 740v6M349.5 745v6M350.5 740v6M351.5 745v6M352.5 735v6M353.5 730v6M354.5 740v6M355.5 745v6M356.5 740v6M357.5 745v6M358.5 740v6M359.5 745v6M360.5 755v6M361.5 750v6M362.5 740v6M363.5 750v6M364.5 755v6M365.5 750v6M366.5 760v6M367.5 750v6M368.5 745v6M369.5 750v6M370.5 740v6M371.5 735v6M372.5 740v6M373.5 730v6M374.5 735v6M375.5 730v6M376.5 735v6M377.5 725v6M378.5 714v6M379.5 704v6M380.5 694v6M381.5 689v6M382.5 699v6M383.5 704v6M384.5 694v6M385.5 689v6M386.5 694v6M387.5 684v6M388.5 679v6M389.5 684v6M390.5 674v6M391.5 664v6M392.5 654v6M393.5 649v6M394.5 654v6M395.5 644v6M396.5 639v6M397.5 644v6M398.5 634v6M399.5 644v6M400.5 634v6M401.5 623v6M402.5 613v6M403.5 603v6M404.5 598v6M405.5 603v6M406.5 593v6M407.5 583v6M408.5 573v6M409.5 563v6M410.5 553v6M411.5 563v6M412.5 573v6M413.5 578v6M414.5 573v6M415.5 583v6M416.5 588v6M417.5 583v6M418.5 593v6M419.5 603v6M420.5 608v6M421.5 603v6M422.5 613v6M423.5 618v6M424.5 613v6M425.5 618v6M426.5 608v6M427.5 598v6M428.5 588v6M429.5 598v6M430.5 603v6M431.5 613v6M432.5 603v6M433.5 598v6M434.5 603v6M435.5 593v6M436.5 588v6M437.5 593v6M438.5 588v6M439.5 598v6M440.5 603v6M441.5 598v6M442.5 608v6M443.5 618v6M444.5 628v6M445.5 634v6M446.5 628v6M447.5 634v6M448.5 623v6M449.5 618v6M450.5 628v6M451.5 639v6M452.5 628v6M453.5 634v6M454.5 628v6M455.5 634v6M456.5 628v6M457.5 639v6M458.5 634v6M459.5 639v6M460.5 634v6M461.5 639v6M462.5 628v6M463.5 618v6M464.5 608v6M465.5 603v6M466.5 613v6M467.5 618v6M468.5 613v6M469.5 618v6M470.5 608v6M471.5 618v6M472.5 608v6M473.5 603v6M474.5 593v6M475.5 598v6M476.5 608v6M477.5 603v6M478.5 608v6M479.5 598v6M480.5 588v6M481.5 583v6M482.5 588v6M483.5 578v6M484.5 568v6M485.5 563v6M486.5 568v6M487.5 558v6M488.5 563v6M489.5 558v6M490.5 568v6M491.5 573v6M492.5 568v6M493.5 573v6M494.5 563v6M495.5 573v6M496.5 568v6M497.5 573v6M498.5 563v6M499.5 553v6M500.5 548v6M501.5 558v6M502.5 563v6M503.5 553v6M504.5 558v6M505.5 553v6M506.5 563v6M507.5 558v6M508.5 563v6M509.5 553v6M510.5 548v6M511.5 558v6M512.5 563v6M513.5 558v6M514.5 568v6M515.5 578v6M516.5 573v6M517.5 578v6M518.5 568v6M519.5 563v6M520.5 568v6M521.5 558v6M522.5 563v6M523.5 573v6M524.5 583v6M525.5 588v6M526.5 583v6M527.5 593v6M528.5 598v6M529.5 593v6M530.5 603v6M531.5 613v6M532.5 618v6M533.5 608v6M534.5 603v6M535.5 608v6M536.5 598v6M537.5 593v6M538.5 598v6M539.5 588v6M540.5 598v6M541.5 603v6M542.5 598v6M543.5 608v6M544.5 613v6M545.5 608v6M546.5 618v6M547.5 608v6M548.5 598v6M549.5 588v6M550.5 583v6M551.5 588v6M552.5 578v6M553.5 568v6M554.5 558v6M555.5 553v6M556.5 563v6M557.5 573v6M558.5 578v6M559.5 573v6M560.5 583v6M561.5 593v6M562.5 583v6M563.5 578v6M564.5 583v6M565.5 578v6M566.5 588v6M567.5 583v6M568.5 593v6M569.5 583v6M570.5 578v6M571.5 568v6M572.5 573v6M573.5 568v6M574.5 578v6M575.5 588v6M576.5 593v6M577.5 588v6M578.5 598v6M579.5 603v6M580.5 598v6M581.5 608v6M582.5 603v6M583.5 613v6M584.5 608v6M585.5 618v6M586.5 628v6M587.5 634v6M588.5 628v6M589.5 634v6M590.5 628v6M591.5 639v6M592.5 649v6M593.5 659v6M594.5 654v6M595.5 644v6M596.5 634v6M597.5 628v6M598.5 639v6M599.5 644v6M600.5 639v6M601.5 649v6M602.5 659v6M603.5 664v6M604.5 659v6M605.5 669v6M606.5 674v6M607.5 669v6M608.5 679v6M609.5 689v6M610.5 679v6M611.5 674v6M612.5 664v6M613.5 659v6M614.5 664v6M615.5 659v6M616.5 664v6M617.5 659v6M618.5 664v6M619.5 654v6M620.5 649v6M621.5 654v6M622.5 644v6M623.5 649v6M624.5 644v6M625.5 654v6M626.5 649v6M627.5 654v6M628.5 664v6M629.5 669v6M630.5 664v6M631.5 674v6M632.5 684v6M633.5 689v6M634.5 684v6M635.5 694v6M636.5 704v6M637.5 709v6M638.5 704v6M639.5 714v6M640.5 720v6M641.5 709v6M642.5 704v6M643.5 709v6M644.5 699v6M645.5 689v6M646.5 684v6M647.5 689v6M648.5 679v6M649.5 669v6M650.5 664v6M651.5 669v6M652.5 659v6M653.5 669v6M654.5 664v6M655.5 674v6M656.5 679v6M657.5 674v6M658.5 684v6M659.5 674v6M660.5 664v6M661.5 654v6M662.5 659v6M663.5 649v6M664.5 654v6M665.5 644v6M666.5 639v6M667.5 644v6M668.5 634v6M669.5 628v6M670.5 639v6M671.5 644v6M672.5 639v6M673.5 644v6M674.5 634v6M675.5 644v6M676.5 649v6M677.5 644v6M678.5 654v6M679.5 664v6M680.5 669v6M681.5 664v6M682.5 669v6M683.5 659v6M684.5 669v6M685.5 674v6M686.5 669v6M687.5 674v6M688.5 664v6M689.5 674v6M690.5 669v6M691.5 659v6M692.5 649v6M693.5 639v6M694.5 634v6M695.5 639v6M696.5 628v6M697.5 634v6M698.5 628v6M699.5 639v6M700.5 644v6M701.5 639v6M702.5 649v6M703.5 659v6M704.5 664v6M705.5 674v6M706.5 679v6M707.5 674v6M708.5 679v6M709.5 669v6M710.5 659v6M711.5 654v6M712.5 664v6M713.5 674v6M714.5 684v6M715.5 694v6M716.5 704v6M717.5 709v6M718.5 704v6M719.5 714v6M720.5 725v6M721.5 730v6M722.5 740v6M723.5 745v6M724.5 755v6M725.5 765v6M726.5 770v6M727.5 765v6M728.5 775v6M729.5 765v6M730.5 760v6M731.5 765v6M732.5 755v6M733.5 750v6M734.5 755v6M735.5 745v6M736.5 740v6M737.5 745v6M738.5 735v6M739.5 725v6M740.5 720v6M741.5 725v6M742.5 714v6M743.5 704v6M744.5 694v6M745.5 684v6M746.5 689v6M747.5 684v6M748.5 694v6M749.5 704v6M750.5 709v6M751.5 704v6M752.5 714v6M753.5 725v6M754.5 735v6M755.5 725v6M756.5 720v6M757.5 709v6M758.5 699v6M759.5 709v6M760.5 714v6M761.5 709v6M762.5 699v6M763.5 694v6M764.5 699v6M765.5 689v6M766.5 679v6M767.5 674v6M768.5 679v6M769.5 674v6M770.5 684v6M771.5 689v6M772.5 684v6M773.5 694v6M774.5 689v6M775.5 679v6M776.5 674v6M777.5 664v6M778.5 654v6M779.5 644v6M780.5 634v6M781.5 623v6M782.5 618v6M783.5 623v6M784.5 634v6M785.5 639v6M786.5 634v6M787.5 639v6M788.5 628v6M789.5 618v6M790.5 628v6M791.5 634v6M792.5 644v6M793.5 649v6M794.5 644v6M795.5 654v6M796.5 644v6M797.5 639v6M798.5 628v6M799.5 623v6M800.5 634v6M801.5 639v6M802.5 634v6M803.5 644v6M804.5 649v6M805.5 644v6M806.5 654v6M807.5 659v6M808.5 654v6M809.5 664v6M810.5 654v6M811.5 644v6M812.5 639v6M813.5 644v6M814.5 634v6M815.5 628v6M816.5 634v6M817.5 623v6M818.5 628v6M819.5 623v6M820.5 628v6M821.5 618v6M822.5 623v6M823.5 618v6M824.5 628v6M825.5 634v6M826.5 628v6M827.5 639v6M828.5 649v6M829.5 659v6M830.5 649v6M831.5 644v6M832.5 649v6M833.5 639v6M834.5 634v6M835.5 639v6M836.5 628v6M837.5 634v6M838.5 628v6M839.5 639v6M840.5 644v6M841.5 639v6M842.5 644v6M843.5 634v6M844.5 644v6M845.5 634v6M846.5 639v6M847.5 649v6M848.5 659v6M849.5 669v6M850.5 679v6M851.5 689v6M852.5 694v6M853.5 689v6M854.5 699v6M855.5 704v6M856.5 699v6" stroke="#000" stroke-width="1" fill="none"/>
<path d="M838 538L848 549L838 560Z" fill="#000"/>
<rect x="848" y="537" width="4" height="24" fill="#000"/>
<path d="M861 709.5L867.5 701.5H917.5V717.5H867.5Z" fill="#d3d3d3" stroke="#000"/>
<text x="876.5" y="714" font-size="11" textLength="38" lengthAdjust="spacingAndGlyphs">0.05350</text>
<rect x="691.5" y="534.5" width="94" height="54" fill="none" stroke="#888" stroke-dasharray="2 1"/>
<svg x="692" y="535" width="93" height="53" overflow="hidden">
<g font-size="11" fill="#6f8fe6">
<text x="2.5" y="12.5">6M 06-16 1 Range</text>
<text x="2.5" y="26"># bars:</text><text x="51.5" y="26">842</text>
<text x="2.5" y="39">Time:</text><text x="51.5" y="39">13:19:11</text>
<text x="2.5" y="51">Y value:</text><text x="54" y="51">30</text>
</g>
</svg>
<path d="M764.7 557L779 548.1L777.5 552.2L799.5 552.2L799.5 553.6L778.8 558.6L780.9 562.7Z" fill="#e00808" stroke="#e00808" stroke-width="0.9" stroke-linejoin="round"/>
<!-- scrollbar -->
<rect x="8" y="961" width="911" height="15" fill="#e6e6e6"/>
<rect x="8" y="962" width="11" height="13" fill="#ffffff"/>
<rect x="908" y="962" width="11" height="13" fill="#ffffff"/>
<path d="M12 968.5L16 965.5V971.5Z" fill="#000"/>
<path d="M915 968.5L911 965.5V971.5Z" fill="#000"/>
<rect x="160.5" y="961.5" width="10" height="14" fill="#f2f2f2" stroke="#cfcfcf"/>
<path d="M164.5 964v9M166.5 964v9" stroke="#c8c8c8"/>
<!-- tabs -->
<rect x="27" y="976" width="76" height="31" fill="#fff"/>
<path d="M27.5 976V1006.5H102.5V976.5H919" stroke="#000" fill="none"/>
<rect x="103" y="977" width="23" height="27" fill="#cdcdcd"/>
<path d="M109 989.5h10M114 984.5v10" stroke="#1a1a1a" stroke-width="1.8"/>
<text x="34" y="995" font-size="13" font-weight="bold" fill="#2b2b2b" textLength="53.5" lengthAdjust="spacingAndGlyphs">6M 06-16</text>
</svg>
</body></html>
